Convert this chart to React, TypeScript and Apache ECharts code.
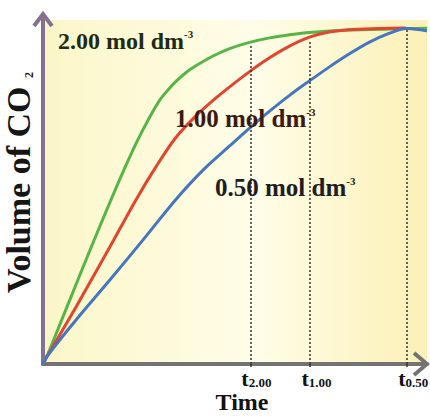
import React, { useEffect, useRef } from "react";
import * as echarts from "echarts";

// Time (arbitrary units, 0-100) and volume of CO2 (arbitrary units, 0-100)
const timeGreen = [0, 1.3, 4.9, 8.6, 12.2, 16.4, 20.5, 24.4, 27.8, 30.4, 32.5, 34.5, 37.1, 39.7, 44.4, 48.6, 53.8, 59.0, 64.2, 69.4, 79.7, 94.5, 100];
const volGreen = [0, 3.0, 12.9, 23.1, 33.0, 44.3, 55.0, 64.5, 71.8, 76.7, 79.6, 82.0, 84.6, 86.6, 89.6, 91.7, 93.5, 94.8, 95.7, 96.4, 97.1, 97.5, 97.6];

const timeRed = [0, 1.3, 8.6, 17.4, 24.2, 29.4, 34.5, 39.7, 44.9, 49.1, 53.8, 59.0, 64.2, 69.4, 74.5, 79.7, 87.5, 94.5];
const volRed = [0, 2.6, 16.6, 34.0, 47.7, 57.3, 65.7, 72.0, 77.2, 81.0, 85.0, 89.0, 92.4, 95.0, 96.5, 97.2, 97.5, 97.7];

const timeBlue = [0, 1.3, 8.6, 17.4, 26.0, 34.5, 41.6, 48.6, 53.8, 59.0, 64.2, 69.4, 74.5, 79.7, 84.9, 90.1, 94.5, 98.7, 100];
const volBlue = [0, 2.6, 12.8, 24.4, 36.0, 47.7, 56.3, 63.4, 68.6, 73.5, 78.1, 82.3, 86.3, 90.1, 93.5, 96.1, 97.5, 97.1, 96.8];

const tValues = [54.0, 69.4, 94.6];
const tSubs = ["2.00", "1.00", "0.50"];
const tTops = [93.0, 94.2, 97.1];

const concLabels = ["2.00 mol dm", "1.00 mol dm", "0.50 mol dm"];

const FONT = "'Liberation Serif', 'Times New Roman', serif";

function pairs(xs: number[], ys: number[]) {
  return xs.map((x, i) => [x, ys[i]]);
}

export default function App() {
  const ref = useRef<HTMLDivElement>(null);
  useEffect(() => {
    document.body.style.margin = "0";
    if (!ref.current) return;
    const chart = echarts.init(ref.current, null, { renderer: "svg" });
    const yColor = "#85718f";
    const xColor = "#737373";
    const lineW = 3;
    const concText = (label: string, color: string, size: number) => ({
      text: `${label}{sup|-3}`,
      fontFamily: FONT,
      fontWeight: "bold",
      fontSize: size,
      fill: color,
      rich: {
        sup: { fontFamily: FONT, fontWeight: "bold", fontSize: 11, fill: color, verticalAlign: "top", padding: [0, 0, 14, 0] },
      },
    });
    const tStyle = (pad: number) => ({ fontFamily: FONT, fontWeight: "bold", fontSize: 22, color: "#111", padding: [0, 0, 0, pad] });
    chart.setOption({
      animation: false,
      grid: {
        left: 43,
        right: 3,
        top: 20,
        bottom: 53,
        outerBoundsMode: "none",
        containLabel: false,
        show: true,
        borderWidth: 0,
        backgroundColor: new echarts.graphic.LinearGradient(0, 0, 1, 0, [
          { offset: 0, color: "#fbf6c8" },
          { offset: 0.55, color: "#fffde8" },
          { offset: 1, color: "#fbf0b6" },
        ]),
      },
      xAxis: {
        type: "value",
        min: 0,
        max: 100,
        name: "Time",
        nameLocation: "middle",
        nameGap: 26,
        nameMoveOverlap: false,
        nameTextStyle: { fontFamily: FONT, fontWeight: "bold", fontSize: 24, color: "#111", padding: [0, 0, 0, 14] },
        axisLine: { show: true, lineStyle: { color: xColor, width: 4 } },
        splitLine: { show: false },
        axisTick: { show: true, customValues: tValues, length: 3, inside: false, lineStyle: { color: "#333", width: 1.5 } },
        axisLabel: {
          show: true,
          customValues: tValues,
          margin: 3,
          formatter: (v: number) => {
            const i = tValues.findIndex((t) => Math.abs(t - v) < 0.01);
            return i >= 0 ? `{t${i}|t}{s|${tSubs[i]}}` : "";
          },
          rich: {
            t0: tStyle(12),
            t1: tStyle(14),
            t2: tStyle(14),
            s: { fontFamily: FONT, fontWeight: "bold", fontSize: 13, color: "#111", verticalAlign: "bottom" },
          },
        },
      },
      yAxis: {
        type: "value",
        min: 0,
        max: 100,
        name: "Volume of CO {sub|2}",
        nameLocation: "middle",
        nameRotate: 90,
        nameGap: 8,
        nameMoveOverlap: false,
        nameTextStyle: {
          fontFamily: FONT,
          fontWeight: "bold",
          fontSize: 34,
          color: "#151515",
          padding: [0, 0, 0, 19],
          rich: {
            sub: { fontFamily: FONT, fontWeight: "bold", fontSize: 12, color: "#151515", verticalAlign: "bottom" },
          },
        },
        axisLine: { show: true, lineStyle: { color: yColor, width: 4 } },
        splitLine: { show: false },
        axisTick: { show: false },
        axisLabel: { show: false },
      },
      series: [
        {
          type: "line",
          name: "2.00 mol dm-3",
          data: pairs(timeGreen, volGreen),
          smooth: 0.3,
          showSymbol: false,
          lineStyle: { color: "#57b548", width: lineW },
          z: 4,
        },
        {
          type: "line",
          name: "1.00 mol dm-3",
          data: pairs(timeRed, volRed),
          smooth: 0.3,
          showSymbol: false,
          lineStyle: { color: "#e1442f", width: lineW },
          z: 4,
        },
        {
          type: "line",
          name: "0.50 mol dm-3",
          data: pairs(timeBlue, volBlue),
          smooth: 0.3,
          showSymbol: false,
          lineStyle: { color: "#4676bd", width: lineW },
          z: 4,
          markLine: {
            silent: true,
            symbol: "none",
            label: { show: false },
            lineStyle: { color: "#333", width: 1.5, type: [2, 2] },
            data: tValues.map((t, i) => [{ coord: [t, 0] }, { coord: [t, tTops[i]] }]),
          },
        },
      ],
      graphic: [
        { type: "polyline", z: 10, shape: { points: [[34, 26], [43, 14], [52, 26]] }, style: { stroke: yColor, lineWidth: 4, fill: null } },
        { type: "line", z: 10, shape: { x1: 43, y1: 15, x2: 43, y2: 24 }, style: { stroke: yColor, lineWidth: 4 } },
        { type: "polyline", z: 10, shape: { points: [[414, 353], [427, 364], [414, 375]] }, style: { stroke: xColor, lineWidth: 4, fill: null } },
        { type: "text", z: 10, x: 58, y: 28, style: concText(concLabels[0], "#1f2b14", 24) },
        { type: "text", z: 10, x: 175, y: 106, style: concText(concLabels[1], "#3b1a10", 25) },
        { type: "text", z: 10, x: 215, y: 175, style: concText(concLabels[2], "#1e1e22", 25) },
      ],
    });
    return () => chart.dispose();
  }, []);
  return <div ref={ref} style={{ width: 430, height: 417 }} />;
}
